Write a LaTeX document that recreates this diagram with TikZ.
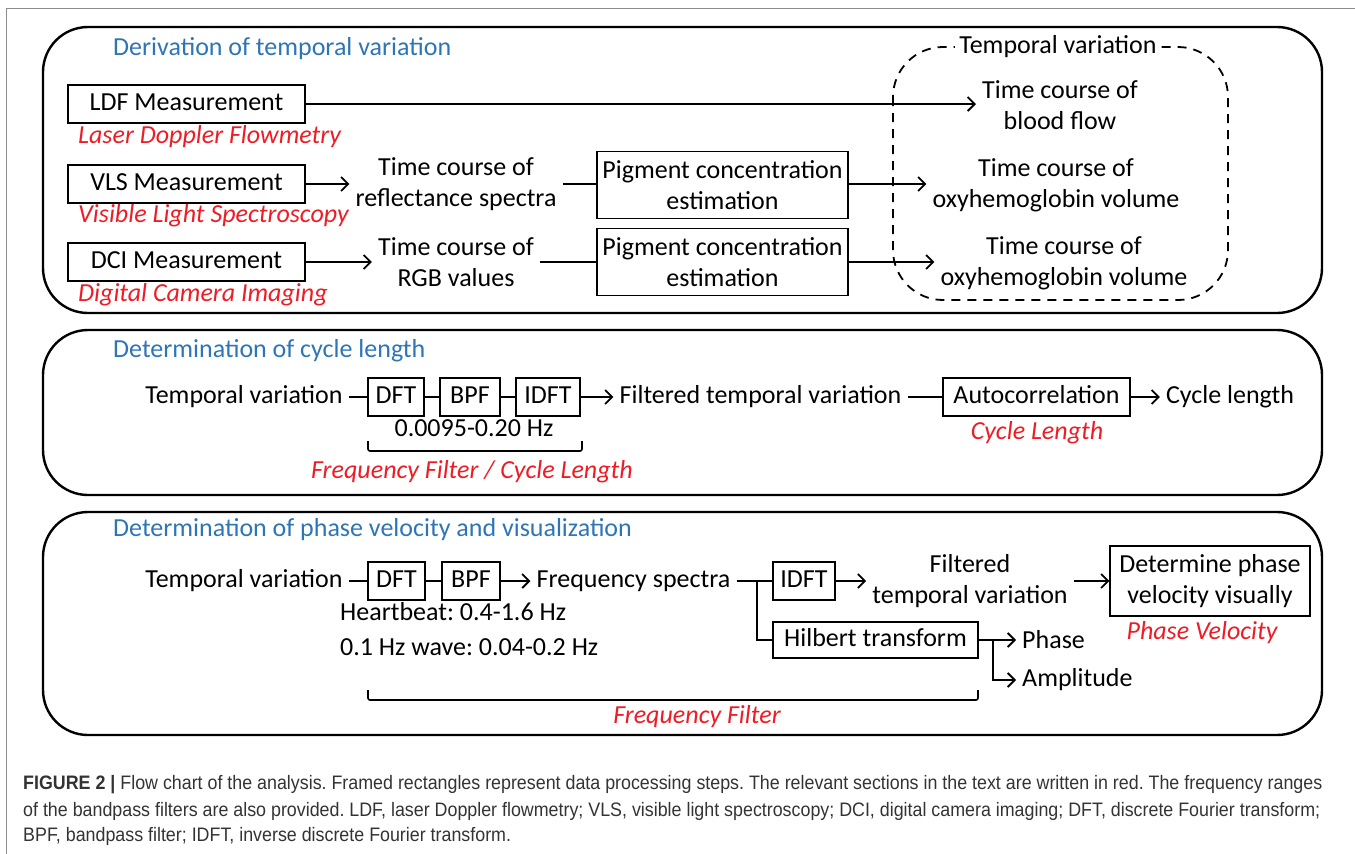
\documentclass[tikz,border=0pt]{standalone}
\usepackage{fontspec}
\setmainfont{Carlito}
\newfontfamily\capfont[FakeStretch=0.915]{Liberation Sans}
\usetikzlibrary{arrows.meta}
\definecolor{headblue}{RGB}{46,117,182}
\definecolor{secred}{RGB}{238,28,36}
\frenchspacing

\begin{document}
\begin{tikzpicture}[x=1pt,y=-1pt,
  font=\fontsize{26}{31}\selectfont,
  stepbox/.style={draw,line width=1.4pt,inner sep=0pt,minimum height=38pt,text height=18pt,text depth=5pt},
  twobox/.style={draw,line width=1.4pt,inner sep=0pt,align=center,minimum width=251pt,minimum height=67pt},
  txt/.style={inner xsep=6pt,inner ysep=0pt,align=center},
  sec/.style={text=secred,font=\fontsize{26}{31}\selectfont\itshape,inner sep=0pt},
  head/.style={text=headblue,anchor=west,inner sep=0pt},
  panel/.style={draw,line width=2.4pt,rounded corners=45pt},
  link/.style={line width=1.8pt},
  arr/.style={line width=1.8pt,-{Straight Barb[length=7pt,width=14pt]}},
  capline/.style={anchor=west,inner sep=0pt,text=black!80,font=\capfont\fontsize{19.5}{22}\selectfont}
]
\useasboundingbox (0,0) rectangle (1355,854);
% Figure frame
\draw[black!45,line width=1pt] (6,854) -- (6,8) -- (1355,8);
\draw[panel] (43,27) rectangle (1322,313);
\draw[panel] (43,330) rectangle (1322,495);
\draw[panel] (43,512) rectangle (1322,735);

% Derivation of temporal variation
\node[head] (h1) at (113,49){Derivation of temporal variation};
\draw[line width=1.8pt,dashed,dash pattern=on 9pt off 7pt,rounded corners=50pt] (893,47) rectangle (1228,300);
\node[fill=white,inner xsep=4pt,inner ysep=0pt] (tv) at (1058,47){Temporal variation};
\node[stepbox,minimum width=237pt] (ldf) at (186.5,104){LDF Measurement};
\node[stepbox,minimum width=237pt] (vls) at (186.5,184){VLS Measurement};
\node[stepbox,minimum width=237pt] (dci) at (186.5,262){DCI Measurement};
\node[sec,anchor=west] (ldfs) at (78,137){Laser Doppler Flowmetry};
\node[sec,anchor=west] (vlss) at (78,216){Visible Light Spectroscopy};
\node[sec,anchor=west] (dcis) at (78,295){Digital Camera Imaging};
\node[txt] (rs) at (456,184){Time course of\\reflectance spectra};
\node[txt] (rgb) at (456,262){Time course of\\RGB values};
\node[twobox] (pig1) at (722.5,185){Pigment concentration\\estimation};
\node[twobox] (pig2) at (722.5,262){Pigment concentration\\estimation};
\node[txt] (bf) at (1060,105){Time course of\\blood flow};
\node[txt] (oxa) at (1056,185){Time course of\\oxyhemoglobin volume};
\node[txt] (oxb) at (1064,263){Time course of\\oxyhemoglobin volume};
\draw[arr] (ldf.east) -- (ldf.east -| bf.west);
\draw[arr] (vls.east) -- (vls.east -| rs.west);
\draw[arr] (dci.east) -- (dci.east -| rgb.west);
\draw[link] (rs.east) -- (rs.east -| pig1.west);
\draw[link] (rgb.east) -- (rgb.east -| pig2.west);
\draw[arr] (pig1.east |- rs.east) -- (rs.east -| oxa.west);
\draw[arr] (pig2.east |- rgb.east) -- (rgb.east -| oxb.west);

% Determination of cycle length
\node[head] (h2) at (113,351){Determination of cycle length};
\node[txt] (tva) at (244,397){Temporal variation};
\node[stepbox,minimum width=56pt] (dfta) at (396,397){DFT};
\node[stepbox,minimum width=60pt] (bpfa) at (470,397){BPF};
\node[stepbox,minimum width=64pt] (idfta) at (548,397){IDFT};
\node[txt] (ftv) at (760.5,397){Filtered temporal variation};
\node[stepbox,minimum width=187pt] (auto) at (1036.5,397){Autocorrelation};
\node[txt] (cl) at (1230,397){Cycle length};
\node[inner sep=0pt] (hza) at (474,428){0.0095-0.20 Hz};
\node[sec] (ffcl) at (472,472){Frequency Filter / Cycle Length};
\node[sec] (cls) at (1037,433){Cycle Length};
\draw[link] (tva.east) -- (dfta.west);
\draw[link] (dfta.east) -- (bpfa.west);
\draw[link] (bpfa.east) -- (idfta.west);
\draw[arr] (idfta.east) -- (ftv.west);
\draw[link] (ftv.east) -- (auto.west);
\draw[arr] (auto.east) -- (cl.west);
\draw[line width=1.6pt,rounded corners=2pt] (368,441) -- (368,451) -- (582,451) -- (582,441);

% Determination of phase velocity and visualization
\node[head] (h3) at (113,530){Determination of phase velocity and visualization};
\node[txt] (tvb) at (244,581){Temporal variation};
\node[stepbox,minimum width=57pt] (dftb) at (396.5,581){DFT};
\node[stepbox,minimum width=58pt] (bpfb) at (471,581){BPF};
\node[txt] (fs) at (633.5,581){Frequency spectra};
\node[stepbox,minimum width=62pt] (idftb) at (804,581){IDFT};
\node[stepbox,minimum width=205pt,minimum height=36pt] (hil) at (875.5,640){Hilbert transform};
\node[txt] (ftvb) at (970,581){Filtered\\temporal variation};
\node[twobox,minimum width=200pt,minimum height=70pt] (dpv) at (1210,581){Determine phase\\velocity visually};
\node[txt,anchor=west] (ph) at (1016,640){Phase};
\node[txt,anchor=west] (amp) at (1016,680){Amplitude};
\node[inner sep=0pt,anchor=west] (hb) at (340,612){Heartbeat: 0.4-1.6 Hz};
\node[inner sep=0pt,anchor=west] (hzw) at (340,647){0.1 Hz wave: 0.04-0.2 Hz};
\node[sec] (pvs) at (1202,633){Phase Velocity};
\node[sec] (ffs) at (697,717){Frequency Filter};
\coordinate (fork) at (757,581);
\coordinate (split) at (993,640);
\draw[link] (tvb.east) -- (dftb.west);
\draw[link] (dftb.east) -- (bpfb.west);
\draw[arr] (bpfb.east) -- (fs.west);
\draw[link] (fs.east) -- (idftb.west);
\draw[link] (fork) |- (hil.west);
\draw[arr] (idftb.east) -- (ftvb.west);
\draw[arr] (ftvb.east) -- (dpv.west);
\draw[arr] (hil.east) -- (ph.west);
\draw[arr] (split) |- (amp.west);
\draw[line width=1.6pt,rounded corners=2pt] (368,690) -- (368,700) -- (978,700) -- (978,690);

% Caption
\node[capline] (c1) at (23,785){\textbf{FIGURE 2 |} Flow chart of the analysis. Framed rectangles represent data processing steps. The relevant sections in the text are written in red. The frequency ranges};
\node[capline] (c2) at (23,811){of the bandpass filters are also provided. LDF, laser Doppler flowmetry; VLS, visible light spectroscopy; DCI, digital camera imaging; DFT, discrete Fourier transform;};
\node[capline] (c3) at (23,836){BPF, bandpass filter; IDFT, inverse discrete Fourier transform.};
\end{tikzpicture}
\end{document}
